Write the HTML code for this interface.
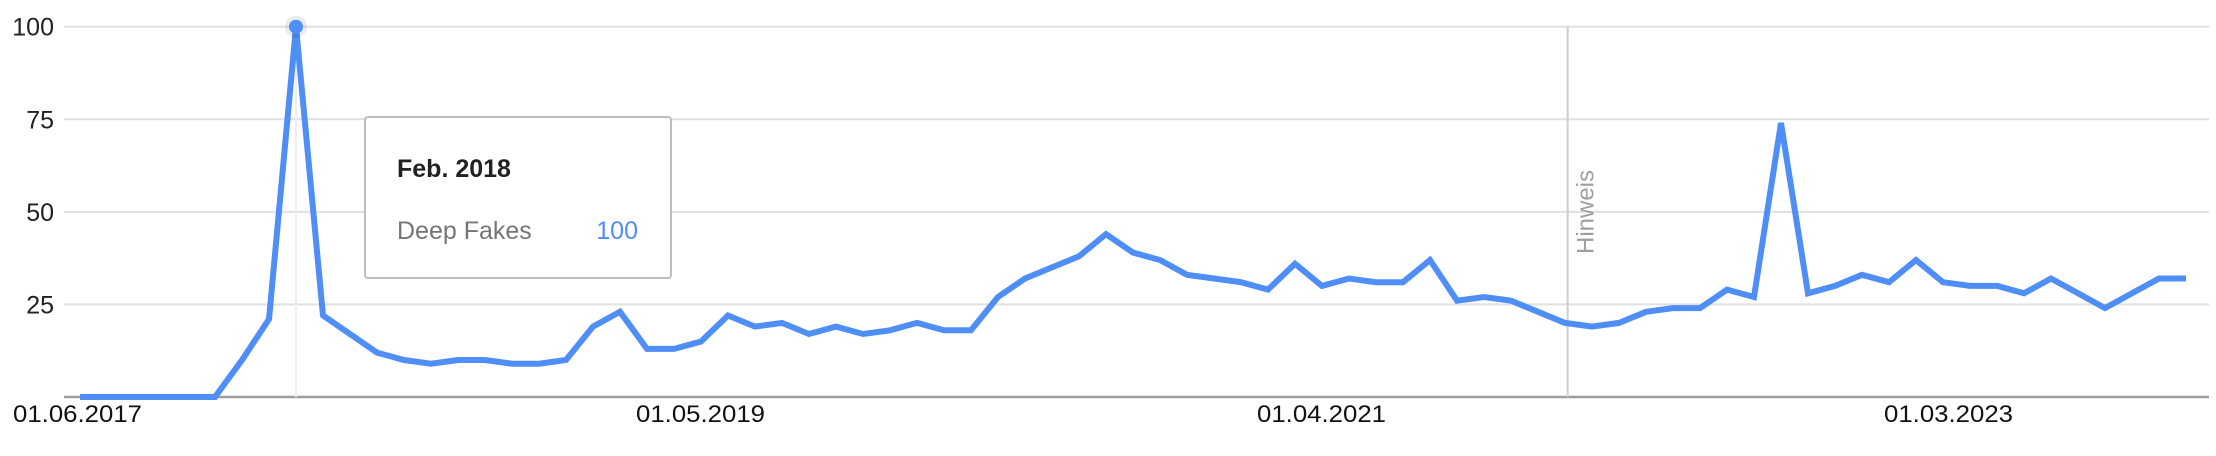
<!DOCTYPE html>
<html><head><meta charset="utf-8"><style>
html,body{margin:0;padding:0;background:#fff;}
svg{display:block;font-family:"Liberation Sans",Arial,sans-serif;}
</style></head><body>
<svg id="chart" width="2216" height="456" viewBox="0 0 2216 456" xmlns="http://www.w3.org/2000/svg">
<g id="grid"></g>
<g id="hint"></g>
<g id="series"></g>
<g id="xlabels"></g>
<g id="ylabels"></g>
<g id="tooltip"></g>
</svg>
<script>
const yTicks = [25, 50, 75, 100];
const yTickLabels = ["25", "50", "75", "100"];
const xTickIndex = [0, 23, 46, 69];
const xTickLabels = ["01.06.2017", "01.05.2019", "01.04.2021", "01.03.2023"];
const values = [0,0,0,0,0,0,10,21,100,22,17,12,10,9,10,10,9,9,10,19,23,13,13,15,22,19,20,17,19,17,18,20,18,18,27,32,35,38,44,39,37,33,32,31,29,36,30,32,31,31,37,26,27,26,23,20,19,20,23,24,24,29,27,74,28,30,33,31,37,31,30,30,28,32,28,24,28,32,32];
const hintIndex = 55.1;
const tooltipIndex = 8;
const tooltipTitle = "Feb. 2018";
const tooltipSeries = "Deep Fakes";

const NS = "http://www.w3.org/2000/svg";
const x0 = 80, step = 27.0;
const yBase = 397, yTop = 26.7;
function xs(i){ return x0 + i * step; }
function ys(v){ return yBase - (yBase - yTop) * v / 100; }
function mk(tag, attrs, parent){ const e = document.createElementNS(NS, tag); for (const k in attrs) e.setAttribute(k, attrs[k]); parent.appendChild(e); return e; }

const grid = document.getElementById('grid');
yTicks.forEach((t, i) => {
  const l = mk('line', {x1: 64, x2: 2209, y1: ys(t), y2: ys(t), stroke: '#e0e0e0', 'stroke-width': 2}, grid);
  
  
  const tx = mk('text', {x: 54, y: ys(t) + 9, 'text-anchor': 'end', 'font-size': 25, fill: '#222'}, document.getElementById('ylabels'));
  tx.textContent = yTickLabels[i];
  
  
});
const axis = mk('line', {x1: 64, x2: 2209, y1: yBase, y2: yBase, stroke: '#9e9e9e', 'stroke-width': 2.5}, grid);



const hover = mk('line', {x1: xs(tooltipIndex), x2: xs(tooltipIndex), y1: yTop, y2: yBase, stroke: '#eeeeee', 'stroke-width': 2}, grid);



const hint = document.getElementById('hint');
const hl = mk('line', {x1: xs(hintIndex), x2: xs(hintIndex), y1: yTop, y2: yBase, stroke: '#cccccc', 'stroke-width': 2}, hint);


const ht = mk('text', {x: 0, y: 0, 'font-size': 24, fill: '#9e9e9e', 'text-anchor': 'middle', transform: 'translate(' + (xs(hintIndex) + 26) + ',212) rotate(-90)'}, hint);
ht.textContent = 'Hinweis';



const pts = values.map((v, i) => xs(i).toFixed(1) + ',' + ys(v).toFixed(1)).join(' ');
const pl = mk('polyline', {points: pts, fill: 'none', stroke: '#4f8ef7', 'stroke-width': 6, 'stroke-linejoin': 'miter'}, document.getElementById('series'));


const halo = mk('circle', {cx: xs(tooltipIndex), cy: ys(values[tooltipIndex]), r: 11, fill: 'rgba(0,0,0,0.08)'}, document.getElementById('series'));


const dot = mk('circle', {cx: xs(tooltipIndex), cy: ys(values[tooltipIndex]), r: 7, fill: '#4f8ef7'}, document.getElementById('series'));



const labelX = [13, 636, 1257, 1884];
xTickIndex.forEach((idx, i) => {
  const t = mk('text', {x: labelX[i], y: 422, 'font-size': 24, fill: '#111', textLength: 129, lengthAdjust: 'spacingAndGlyphs'}, document.getElementById('xlabels'));
  t.textContent = xTickLabels[i];
  
  
});

const tt = document.getElementById('tooltip');
const box = mk('rect', {x: 365, y: 117, width: 306, height: 161, rx: 3, fill: '#fff', stroke: '#bdbdbd', 'stroke-width': 2}, tt);


const t1 = mk('text', {x: 397, y: 177, 'font-size': 25, 'font-weight': 'bold', fill: '#212121'}, tt);
t1.textContent = tooltipTitle;


const t2 = mk('text', {x: 397, y: 239, 'font-size': 25, fill: '#757575'}, tt);
t2.textContent = tooltipSeries;


const t3 = mk('text', {x: 638, y: 239, 'font-size': 25, fill: '#4f8ef7', 'text-anchor': 'end'}, tt);
t3.textContent = String(values[tooltipIndex]);


</script>
</body></html>
